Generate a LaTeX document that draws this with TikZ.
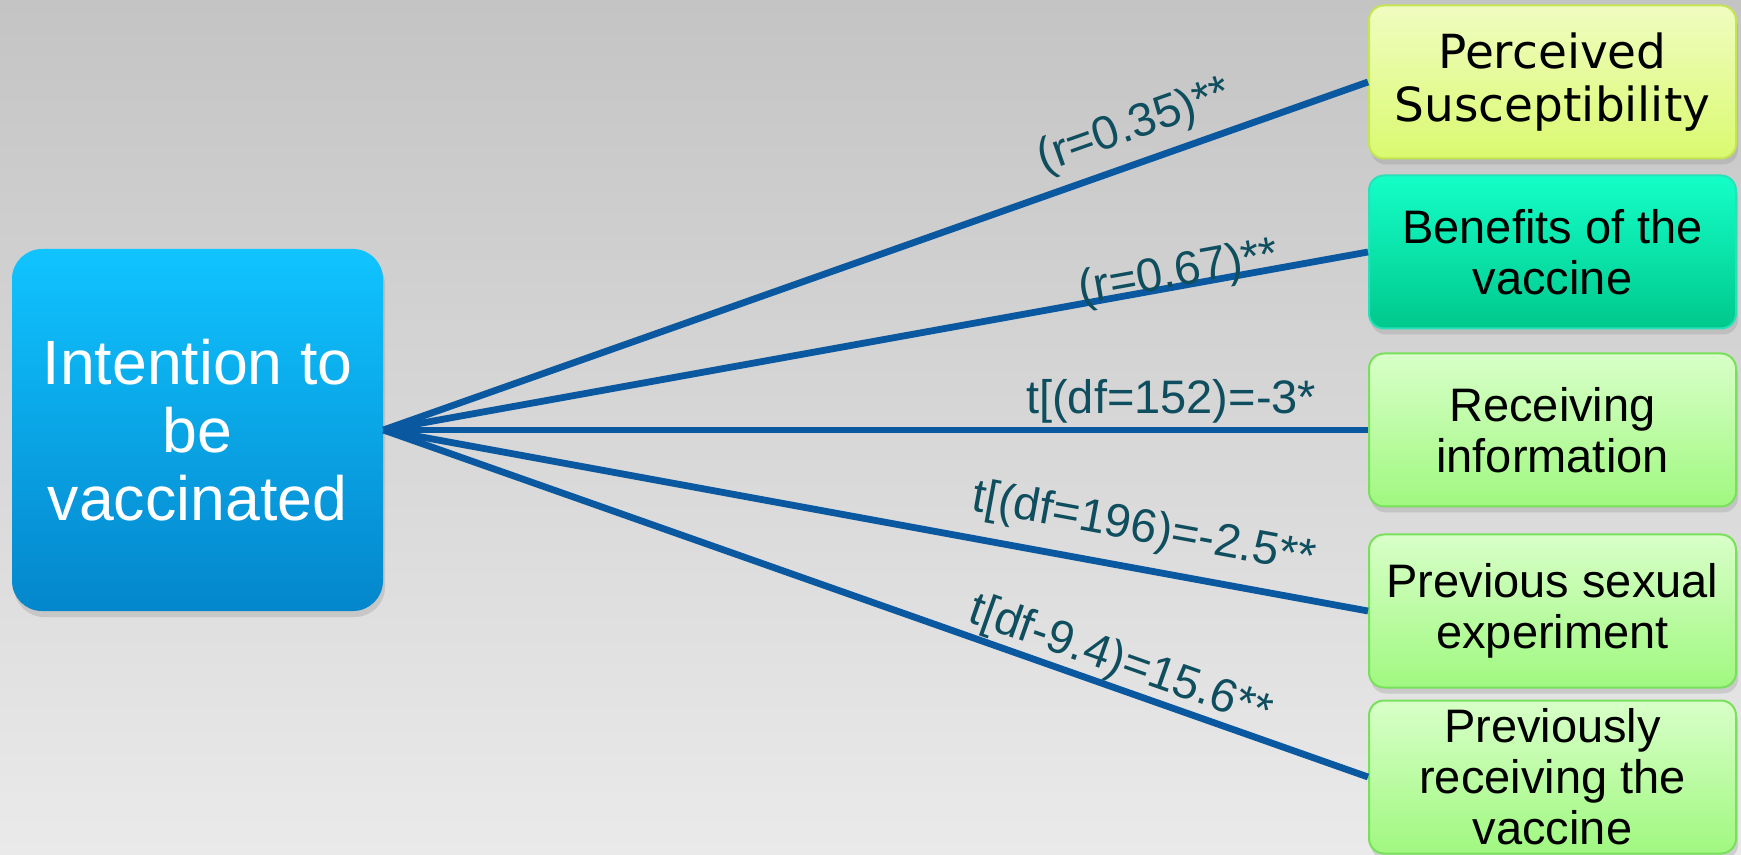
\documentclass[tikz,border=0pt]{standalone}
\usepackage{fontspec}
\setmainfont{Liberation Sans}
\newfontfamily\vera{DejaVu Sans}
\usetikzlibrary{positioning,shadows}

\definecolor{linkblue}{RGB}{10,88,160}
\definecolor{labteal}{RGB}{14,78,94}
\definecolor{bgtop}{RGB}{196,196,196}
\definecolor{bgbot}{RGB}{234,234,234}
\definecolor{intenttop}{RGB}{16,196,255}
\definecolor{intentbot}{RGB}{4,134,204}
\definecolor{yeltop}{RGB}{240,252,192}
\definecolor{yelbot}{RGB}{218,250,112}
\definecolor{yeldraw}{RGB}{196,230,80}
\definecolor{tealtop}{RGB}{20,255,200}
\definecolor{tealbot}{RGB}{0,200,140}
\definecolor{tealdraw}{RGB}{40,225,185}
\definecolor{grntop}{RGB}{216,255,200}
\definecolor{grnbot}{RGB}{160,248,128}
\definecolor{grndraw}{RGB}{120,224,90}

\begin{document}
\begin{tikzpicture}[
  x=0.5pt, y=-0.5pt,
  boxshadow/.style={drop shadow={shadow xshift=1pt, shadow yshift=-3pt, opacity=0.25}},
  intentbox/.style={rounded corners=15pt, align=center, text=white,
              minimum width=185.5pt, minimum height=181pt, inner sep=1pt,
              top color=intenttop, bottom color=intentbot, boxshadow,
              font=\fontsize{31.3}{34}\selectfont},
  factor/.style={rounded corners=7.5pt, align=center, line width=1pt,
              minimum width=183.5pt, minimum height=76.5pt, inner sep=1pt,
              boxshadow, font=\fontsize{23.5}{25.5}\selectfont},
  yelbox/.style={factor, draw=yeldraw, top color=yeltop, bottom color=yelbot},
  tealbox/.style={factor, draw=tealdraw, top color=tealtop, bottom color=tealbot},
  grnbox/.style={factor, draw=grndraw, top color=grntop, bottom color=grnbot},
  link/.style={draw=linkblue, line width=3.4pt},
  lbl/.style={sloped, inner sep=0pt, text=labteal, font=\fontsize{23.5}{26}\selectfont},
]
\useasboundingbox (0,0) rectangle (1741,855);
\shade[top color=bgtop, bottom color=bgbot] (0,0) rectangle (1741,855);

\node[intentbox] (intent) at (197.5,430) {Intention to\\ be\\ vaccinated};

\node[yelbox, font=\vera\fontsize{23.5}{26.5}\selectfont] (sus) at (1552.5,82) {Perceived\\ Susceptibility};
\node[tealbox, below=7.5pt of sus] (ben) {Benefits of the\\ vaccine};
\node[grnbox, below=11.5pt of ben] (info) {Receiving\\ information};
\node[grnbox, below=13pt of info] (sex) {Previous sexual\\ experiment};
\node[grnbox, below=5.5pt of sex] (prev) {Previously\\ receiving the\\ vaccine};

\draw[link] (intent.east) -- (sus.west) node[lbl, pos=.775, above=5pt] {(r=0.35)**};
\draw[link] (intent.east) -- (ben.west) node[lbl, pos=.81, anchor=base] {(r=0.67)**};
\draw[link] (intent.east) -- (info.west) node[lbl, pos=.80, above=1.5pt] {t[(df=152)=-3*};
\draw[link] (intent.east) -- (sex.west) node[lbl, pos=.765, above=7pt] {t[(df=196)=-2.5**};
\draw[link] (intent.east) -- (prev.west) node[lbl, pos=.74, above=0pt] {t[df-9.4)=15.6**};
\end{tikzpicture}
\end{document}
